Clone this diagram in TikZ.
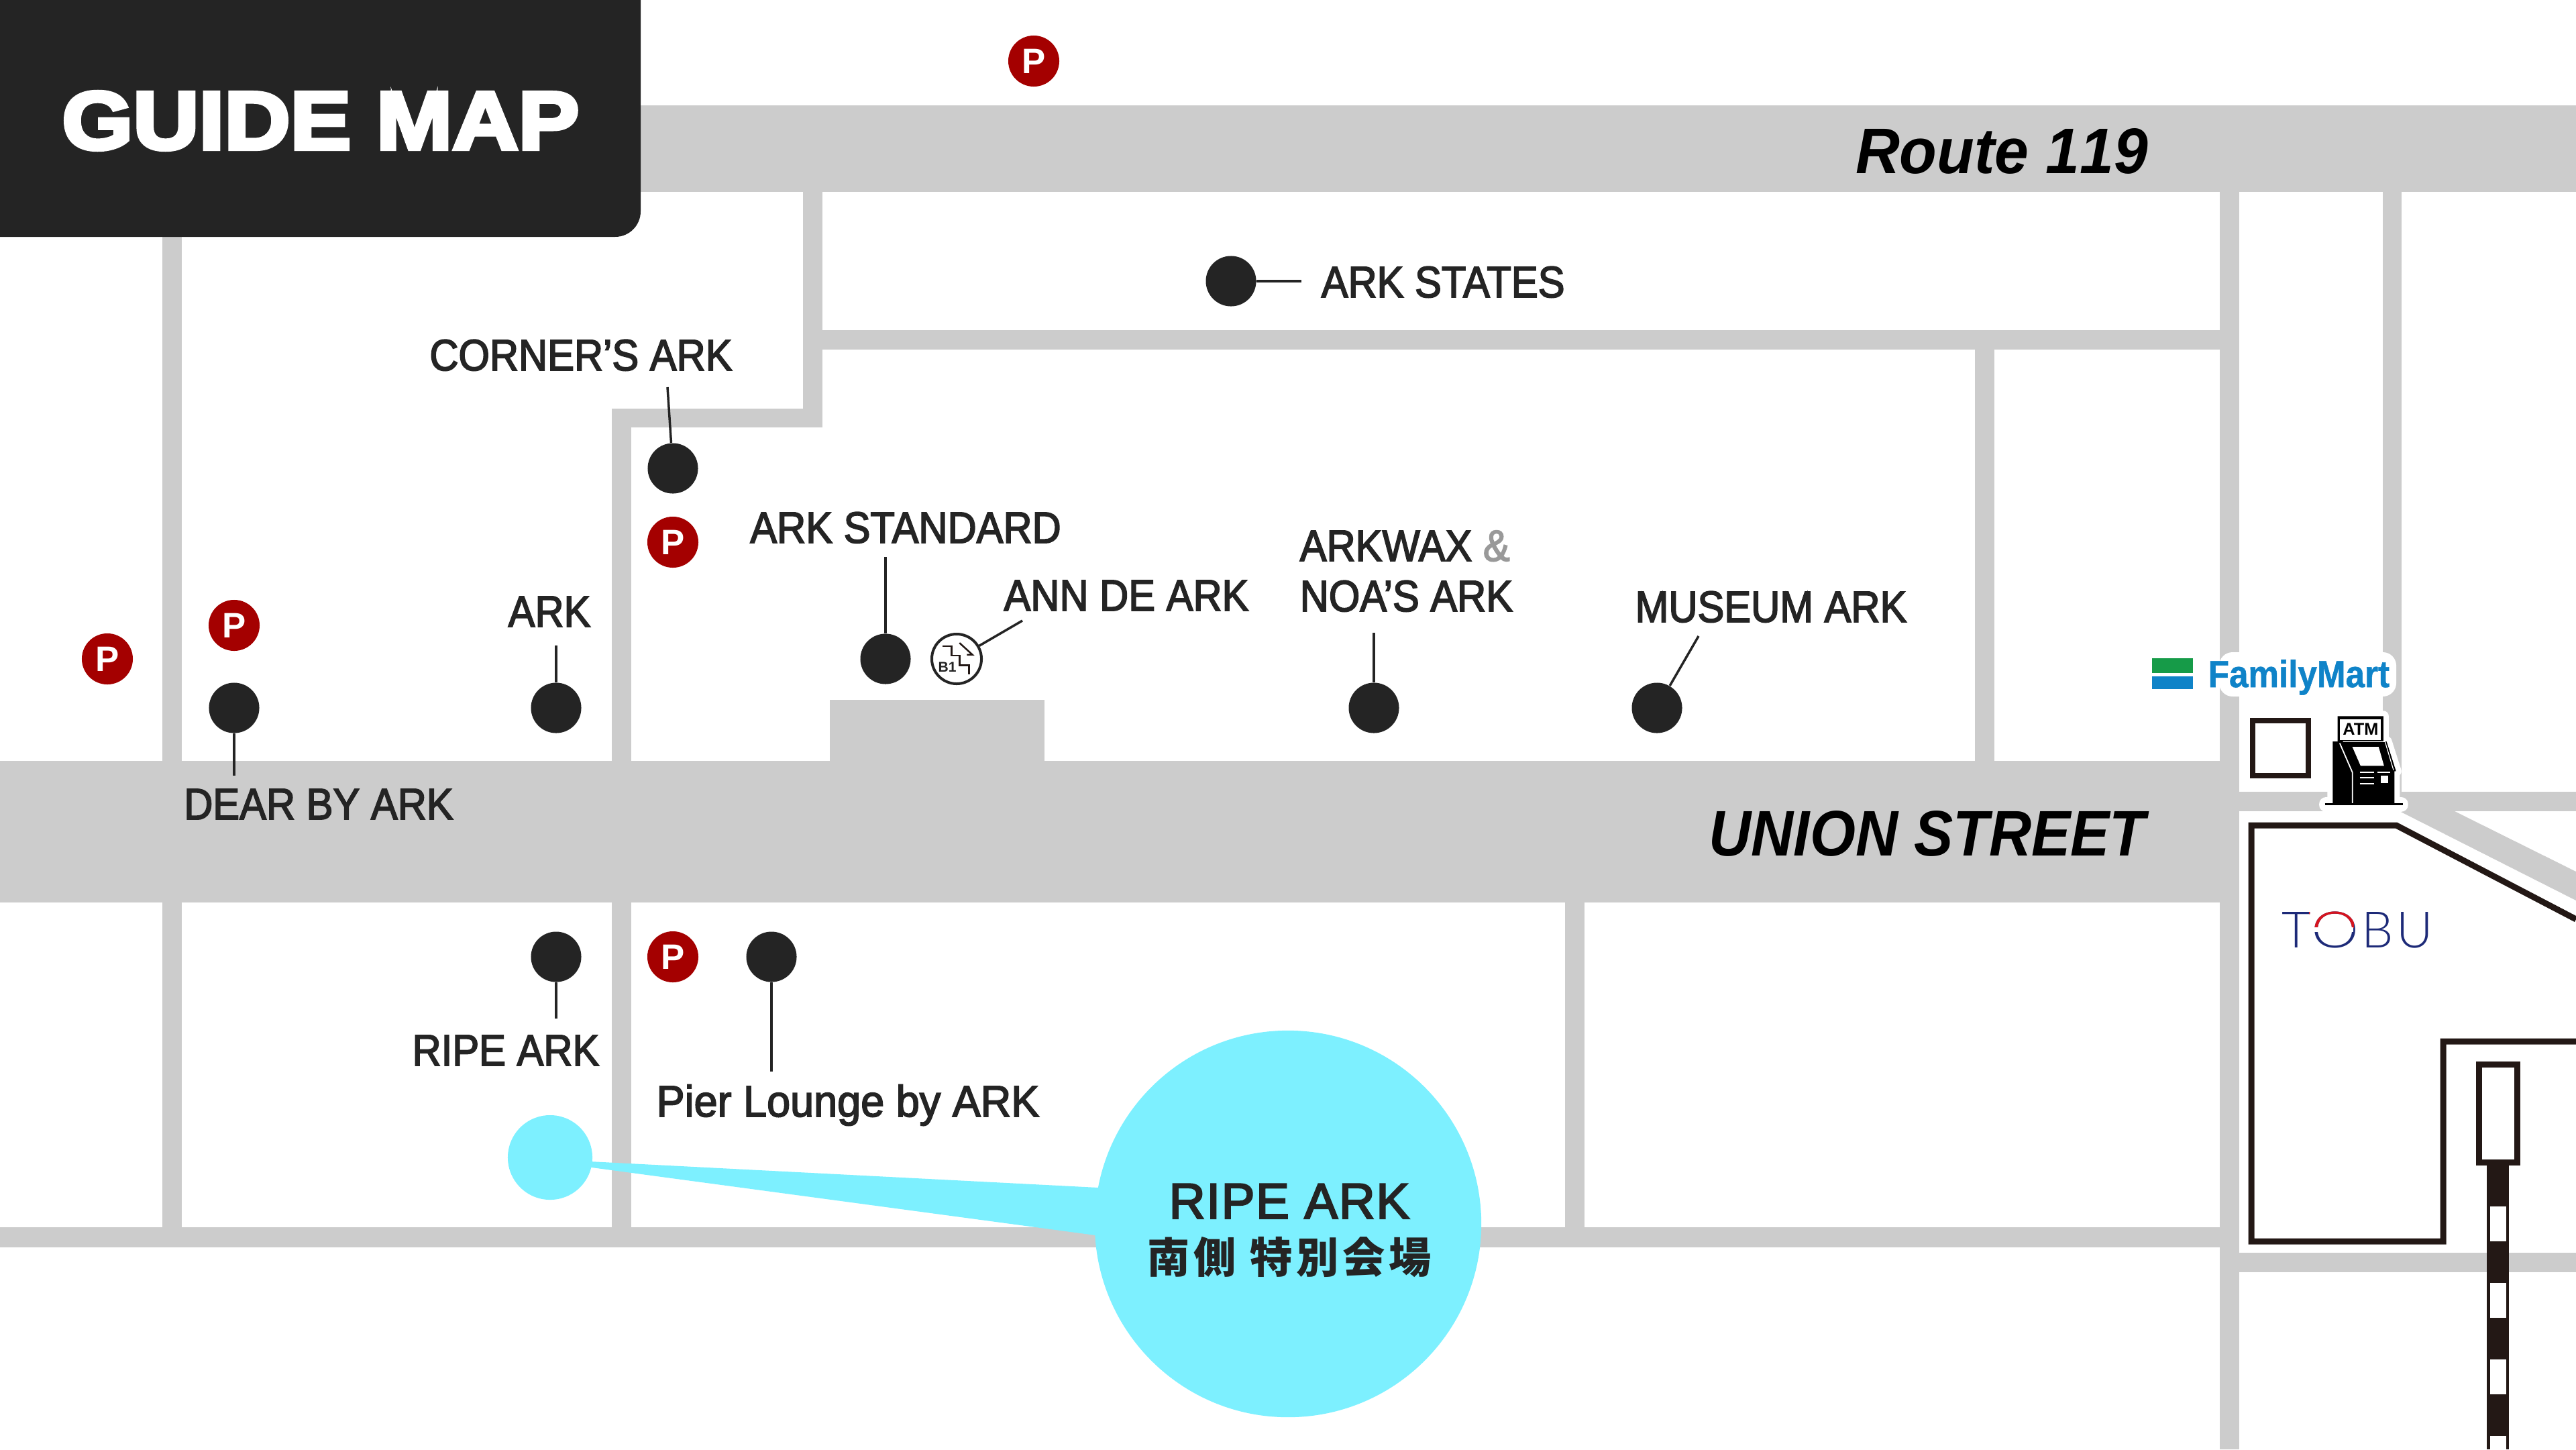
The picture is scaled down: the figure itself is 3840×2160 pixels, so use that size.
\documentclass[tikz,border=0pt]{standalone}
\usepackage{fontspec}
\setmainfont{Liberation Sans}
\newfontfamily\labelFont[FakeStretch=0.91,FakeBold=2.6]{Liberation Sans}
\newfontfamily\pierFont[FakeStretch=0.96,FakeBold=2.6]{Liberation Sans}
\newfontfamily\titleFont[FakeStretch=1.115,FakeBold=5]{Liberation Sans Bold}
\newfontfamily\streetFont[FakeStretch=0.91]{Liberation Sans Bold Italic}
\newfontfamily\routeFont[FakeStretch=0.95,Kerning=Off]{Liberation Sans Bold Italic}
\newfontfamily\spotFont[FakeBold=3,LetterSpace=2]{Liberation Sans}
\newfontfamily\logoFont{Lato Light}
\newfontfamily\martFont[FakeStretch=0.91,FakeBold=1]{Liberation Sans Bold}
\newfontfamily\jpFont[LetterSpace=9]{Noto Sans CJK JP}
\usetikzlibrary{calc}
\definecolor{roadGray}{HTML}{CCCCCC}
\definecolor{inkBlack}{HTML}{242424}
\definecolor{railBlack}{HTML}{231815}
\definecolor{parkRed}{HTML}{A40000}
\definecolor{spotBlue}{HTML}{7DF0FF}
\definecolor{martBlue}{HTML}{0F83C8}
\definecolor{martGreen}{HTML}{169B48}
\definecolor{tobuNavy}{HTML}{1D2A78}
\definecolor{tobuRed}{HTML}{D7141E}
\tikzset{
	road/.style={fill=roadGray},
	leader/.style={draw=inkBlack, line width=0.035cm},
	pin/.style={circle, fill=inkBlack, inner sep=0, minimum size=0.75cm},
	park/.style={circle, fill=parkRed, text=white, inner sep=0, minimum size=0.76cm, font=\bfseries\fontsize{15}{15}\selectfont},
	shop/.style={text=inkBlack, inner sep=0, anchor=base, font=\labelFont\fontsize{18.66}{20}\selectfont},
	rail/.style={draw=railBlack, line width=0.09cm},
}
\newcommand{\tobuLetters}{T\scalebox{1.2}[1]{O}\kern1.1pt B\kern1.3pt U}

\begin{document}
\begin{tikzpicture}[x=0.01cm, y=-0.01cm]
	\useasboundingbox (0,0) rectangle (3840,2160);
	% roads
	\fill[road] (0,157) rectangle (3840,286);
	\fill[road] (0,1134) rectangle (3309,1345);
	\fill[road] (1237,1043) rectangle (1557,1134);
	\fill[road] (0,1829) rectangle (3309,1859);
	\fill[road] (1226,492) rectangle (3309,521);
	\fill[road] (912,609) rectangle (1226,637);
	\fill[road] (1197,286) rectangle (1226,637);
	\fill[road] (912,609) rectangle (941,1859);
	\fill[road] (242,286) rectangle (271,1859);
	\fill[road] (2333,1345) rectangle (2362,1829);
	\fill[road] (2944,521) rectangle (2973,1134);
	\fill[road] (3309,286) rectangle (3338,2160);
	\fill[road] (3552,286) rectangle (3580,1180);
	\fill[road] (3338,1180) rectangle (3840,1209);
	\fill[road] (3338,1867) rectangle (3840,1896);
	\fill[road] (3577,1209) -- (3659,1209) -- (3840,1299) -- (3840,1342) -- cycle;

	% title
	\fill[inkBlack] (0,0) -- (955,0) [rounded corners=0.38cm] -- (955,353) [sharp corners] -- (0,353) -- cycle;
	\node[text=white, inner sep=0, anchor=base] (titleText) at (478,222) {\titleFont\fontsize{34.7}{36}\selectfont GUIDE MAP};

	% streets
	\node[text=black, inner sep=0, anchor=base] (routeText) at (2984,258) {\routeFont\fontsize{27.3}{29}\selectfont Route 119};
	\node[text=black, inner sep=0, anchor=base] (unionText) at (2873,1275) {\streetFont\fontsize{27.3}{29}\selectfont UNION STREET};

	% parking
	\node[park] (parkTop) at (1541,91) {P};
	\node[park] (parkCorner) at (1003,808) {P};
	\node[park] (parkDear) at (349,932) {P};
	\node[park] (parkWest) at (160,982) {P};
	\node[park] (parkSouth) at (1003,1426) {P};

	% shops
	\node[pin] (statesDot) at (1835,419) {};
	\node[pin] (cornerDot) at (1003,698) {};
	\node[pin] (standardDot) at (1320,982) {};
	\node[pin] (arkwaxDot) at (2048,1055) {};
	\node[pin] (museumDot) at (2470,1055) {};
	\node[pin] (arkDot) at (829,1055) {};
	\node[pin] (dearDot) at (349,1055) {};
	\node[pin] (ripeDot) at (829,1426) {};
	\node[pin] (pierDot) at (1150,1426) {};
	\node[circle, draw=inkBlack, fill=white, line width=0.04cm, inner sep=0, minimum size=0.74cm] (annDot) at (1426,982) {};

	\coordinate (statesEnd) at (1940,419);
	\coordinate (cornerEnd) at (995,577);
	\coordinate (standardEnd) at (1320,830);
	\coordinate (annEnd) at (1524,925);
	\coordinate (arkwaxEnd) at (2048,943);
	\coordinate (museumEnd) at (2532,948);
	\coordinate (arkEnd) at (829,962);
	\coordinate (dearEnd) at (349,1156);
	\coordinate (ripeEnd) at (829,1518);
	\coordinate (pierEnd) at (1150,1597);

	\draw[leader] (statesDot) -- (statesEnd);
	\draw[leader] (cornerDot) -- (cornerEnd);
	\draw[leader] (standardDot) -- (standardEnd);
	\draw[leader] (annDot) -- (annEnd);
	\draw[leader] (arkwaxDot) -- (arkwaxEnd);
	\draw[leader] (museumDot) -- (museumEnd);
	\draw[leader] (arkDot) -- (arkEnd);
	\draw[leader] (dearDot) -- (dearEnd);
	\draw[leader] (ripeDot) -- (ripeEnd);
	\draw[leader] (pierDot) -- (pierEnd);

	\node[shop] (cornerText) at (866,552) {CORNER’S ARK};
	\node[shop, anchor=base west] (statesText) at (1969,443) {ARK STATES};
	\node[shop] (standardText) at (1350,809) {ARK STANDARD};
	\node[shop] (annText) at (1679,910) {ANN DE ARK};
	\node[shop, anchor=base west] (arkwaxText) at (1937,836) {ARKWAX {\color{gray!80}\&}};
	\node[shop, anchor=base west] (noaText) at (1937,911) {NOA’S ARK};
	\node[shop] (museumText) at (2640,927) {MUSEUM ARK};
	\node[shop] (arkText) at (819,934) {ARK};
	\node[shop] (dearText) at (475,1221) {DEAR BY ARK};
	\node[shop] (ripeText) at (754,1588) {RIPE ARK};
	\node[shop, font=\pierFont\fontsize{18.66}{20}\selectfont] (pierText) at (1264,1664) {Pier Lounge by ARK};

	% stairs in B1 mark
	\begin{scope}[shift={(1200,850)}, x=0.00333cm, y=-0.00333cm]
		\draw[railBlack, line width=0.025cm] (617,339) -- (657,339) -- (657,381) -- (692,381) -- (692,425) -- (735,425) -- (735,466);
		\draw[railBlack, line width=0.025cm] (692,325) -- (750,378) -- (725,378);
		\node[text=inkBlack, inner sep=0] (basementText) at (637,432) {\bfseries\fontsize{6}{6}\selectfont B1};
	\end{scope}

	% special venue
	\node[circle, fill=spotBlue, inner sep=0, minimum size=1.26cm] (spotSmall) at (820,1725) {};
	\node[circle, fill=spotBlue, inner sep=0, minimum size=5.76cm] (spotBig) at (1920,1824) {};
	\fill[spotBlue] (860,1730) -- (1637,1770) -- (1633,1841) -- (860,1737) -- cycle;
	\node[text=inkBlack, inner sep=0, anchor=base] (spotName) at (1922,1816) {\spotFont\fontsize{21.3}{22}\selectfont RIPE ARK};
	\node[text=inkBlack, inner sep=0, anchor=base] (spotHall) at (1922,1897) {\jpFont\bfseries\fontsize{18}{19}\selectfont 南側 特別会場};

	% FamilyMart
	\fill[white, rounded corners=0.2cm] (3308,972) rectangle (3572,1038);
	\fill[martGreen] (3208,981) rectangle (3269,1003);
	\fill[martBlue] (3208,1008) rectangle (3269,1027);
	\node[text=martBlue, inner sep=0, anchor=base west] (martText) at (3291,1024) {\martFont\fontsize{16}{16}\selectfont FamilyMart};

	% ATM and small building
	\draw[draw=railBlack, line width=0.08cm] (3358,1074) rectangle (3441,1156);
	\begin{scope}[shift={(3100,900)}, x=0.00472cm, y=-0.008036cm]
		\fill[white, rounded corners=0.1cm] (757,358) rectangle (1038,385);
		\path[draw=white, fill=white, line width=0.16cm, line join=round] (800,255) -- (815,255) -- (815,208) -- (960,208) -- (960,255) -- (970,255) -- (1000,310) -- (995,310) -- (995,370) -- (800,370) -- cycle;
		\fill[black] (800,255) -- (815,255) -- (815,208) -- (960,208) -- (960,255) -- (970,255) -- (1000,310) -- (995,310) -- (995,370) -- (800,370) -- cycle;
		\fill[white] (823,214) rectangle (952,252);
		\draw[white, line width=0.018cm] (822,258) -- (862,312) -- (862,370);
		\draw[white, line width=0.012cm] (832,255) -- (965,255) -- (992,308);
		\fill[white] (862,265) -- (945,265) -- (962,300) -- (888,300) -- cycle;
		\draw[white, line width=0.012cm] (885,312) -- (930,312);
		\draw[white, line width=0.012cm] (885,322) -- (930,322);
		\draw[white, line width=0.012cm] (885,333) -- (930,333);
		\draw[white, line width=0.012cm] (942,312) -- (982,312);
		\fill[white] (952,318) rectangle (975,332);
		\draw[black, line width=0.03cm] (775,371) -- (1022,371);
		\node[text=black, inner sep=0] (atmText) at (888,232) {\bfseries\fontsize{7.2}{7}\selectfont ATM};
	\end{scope}

	% TOBU
	\draw[rail] (3840,1370) -- (3572,1230) -- (3356,1230) -- (3356,1850) -- (3642,1850) -- (3642,1552) -- (3840,1552);
	\node[text=tobuNavy, inner sep=0, anchor=base west] (tobuText) at (3401,1412) {\logoFont\fontsize{21.3}{22}\selectfont\tobuLetters};
	\begin{scope}
		\clip (3442,1340) rectangle (3508,1382);
		\node[text=tobuRed, inner sep=0, anchor=base west] at (3401,1412) {\logoFont\fontsize{21.3}{22}\selectfont\tobuLetters};
	\end{scope}
	\fill[white] (3442,1382) rectangle (3508,1389);

	% station and track
	\fill[railBlack] (3707,1737) rectangle (3740,2160);
	\fill[white] (3712,1798) rectangle (3736,1850);
	\fill[white] (3712,1912) rectangle (3736,1964);
	\fill[white] (3712,2026) rectangle (3736,2078);
	\fill[white] (3712,2140) rectangle (3736,2160);
	\draw[rail] (3695,1586) rectangle (3752,1732);
\end{tikzpicture}
\end{document}
